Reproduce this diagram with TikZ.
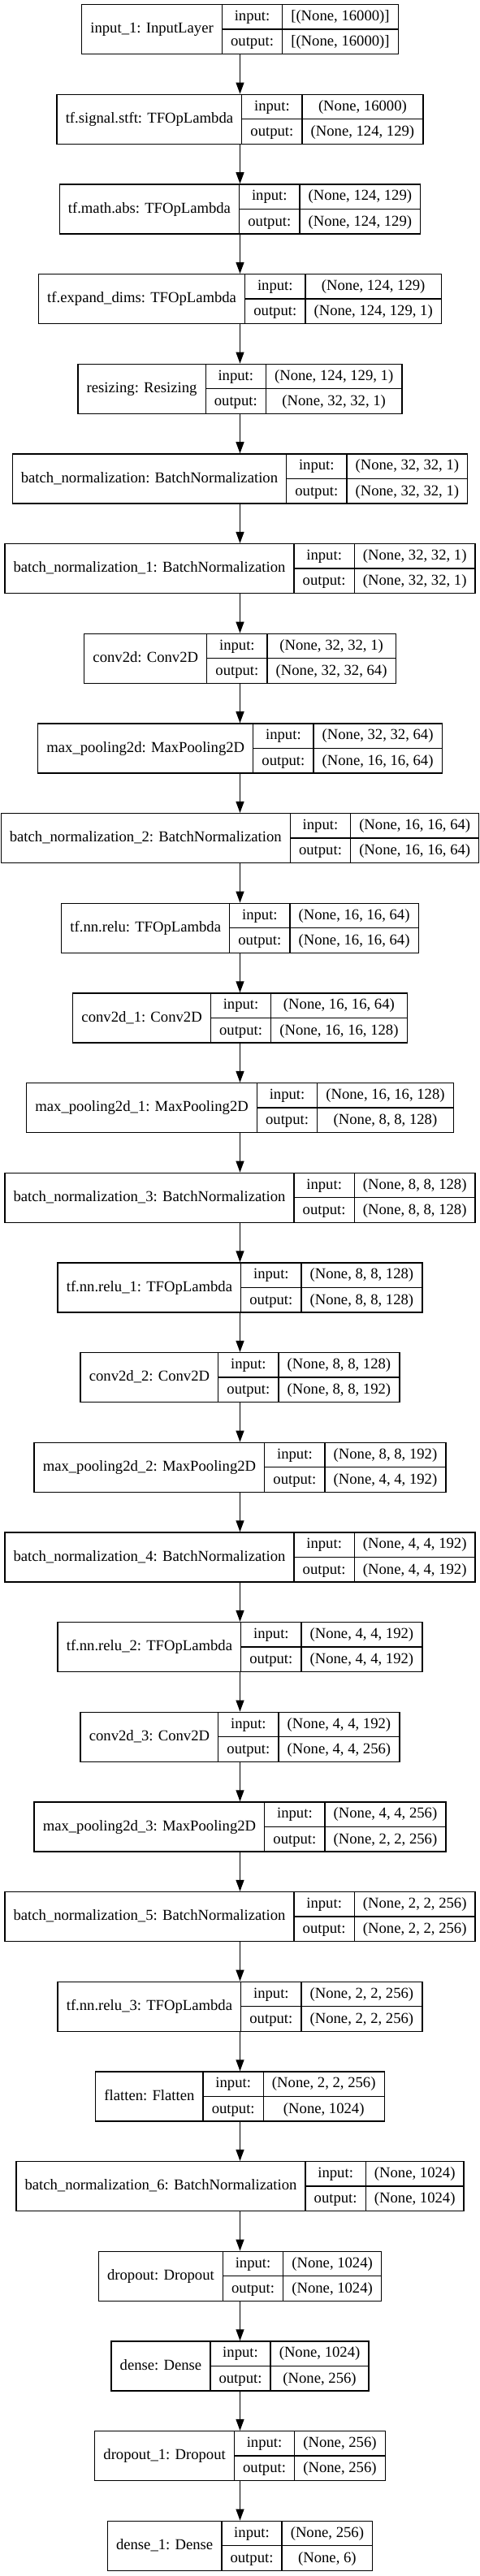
\documentclass[tikz,border=0pt]{standalone}
\usepackage{fontspec}
\setmainfont{Liberation Serif}
\usetikzlibrary{arrows.meta,positioning}

\setlength{\arrayrulewidth}{1pt}
\setlength{\tabcolsep}{0pt}
\newcommand{\fld}[1]{\kern8pt#1\kern8pt}
\newcommand{\fldrow}[1]{\rule[-7.4pt]{0pt}{22.4pt}\fld{#1}}
\newcommand{\lyr}[3]{%
\begin{tabular}{@{}c|c|c@{}}
\fld{#1} &
\begin{tabular}{@{}c@{}}\fldrow{input:}\\\hline\fldrow{output:}\end{tabular} &
\begin{tabular}{@{}c@{}}\fldrow{#2}\\\hline\fldrow{#3}\end{tabular}
\end{tabular}}

\begin{document}
\begin{tikzpicture}[
node distance=36.2pt,
layer/.style={draw,line width=1pt,inner sep=0pt,font=\fontsize{14}{17}\selectfont},
arr/.style={-{Triangle[length=10.5pt,width=7.5pt]},line width=1pt}
]
\path[use as bounding box,fill=white] (-221.625pt,3.68pt) rectangle (221.625pt,-2375.32pt);

\node[layer,anchor=north] (input) at (0,0) {\lyr{input\_1: InputLayer}{[(None, 16000)]}{[(None, 16000)]}};
\node[layer,below=of input]  (stft)   {\lyr{tf.signal.stft: TFOpLambda}{(None, 16000)}{(None, 124, 129)}};
\node[layer,below=of stft]   (abs)    {\lyr{tf.math.abs: TFOpLambda}{(None, 124, 129)}{(None, 124, 129)}};
\node[layer,below=of abs]    (expand) {\lyr{tf.expand\_dims: TFOpLambda}{(None, 124, 129)}{(None, 124, 129, 1)}};
\node[layer,below=of expand] (resize) {\lyr{resizing: Resizing}{(None, 124, 129, 1)}{(None, 32, 32, 1)}};
\node[layer,below=of resize] (bn)     {\lyr{batch\_normalization: BatchNormalization}{(None, 32, 32, 1)}{(None, 32, 32, 1)}};
\node[layer,below=of bn]     (bn1)    {\lyr{batch\_normalization\_1: BatchNormalization}{(None, 32, 32, 1)}{(None, 32, 32, 1)}};
\node[layer,below=of bn1]    (conv)   {\lyr{conv2d: Conv2D}{(None, 32, 32, 1)}{(None, 32, 32, 64)}};
\node[layer,below=of conv]   (pool)   {\lyr{max\_pooling2d: MaxPooling2D}{(None, 32, 32, 64)}{(None, 16, 16, 64)}};
\node[layer,below=of pool]   (bn2)    {\lyr{batch\_normalization\_2: BatchNormalization}{(None, 16, 16, 64)}{(None, 16, 16, 64)}};
\node[layer,below=of bn2]    (relu)   {\lyr{tf.nn.relu: TFOpLambda}{(None, 16, 16, 64)}{(None, 16, 16, 64)}};
\node[layer,below=of relu]   (conv1)  {\lyr{conv2d\_1: Conv2D}{(None, 16, 16, 64)}{(None, 16, 16, 128)}};
\node[layer,below=of conv1]  (pool1)  {\lyr{max\_pooling2d\_1: MaxPooling2D}{(None, 16, 16, 128)}{(None, 8, 8, 128)}};
\node[layer,below=of pool1]  (bn3)    {\lyr{batch\_normalization\_3: BatchNormalization}{(None, 8, 8, 128)}{(None, 8, 8, 128)}};
\node[layer,below=of bn3]    (relu1)  {\lyr{tf.nn.relu\_1: TFOpLambda}{(None, 8, 8, 128)}{(None, 8, 8, 128)}};
\node[layer,below=of relu1]  (conv2)  {\lyr{conv2d\_2: Conv2D}{(None, 8, 8, 128)}{(None, 8, 8, 192)}};
\node[layer,below=of conv2]  (pool2)  {\lyr{max\_pooling2d\_2: MaxPooling2D}{(None, 8, 8, 192)}{(None, 4, 4, 192)}};
\node[layer,below=of pool2]  (bn4)    {\lyr{batch\_normalization\_4: BatchNormalization}{(None, 4, 4, 192)}{(None, 4, 4, 192)}};
\node[layer,below=of bn4]    (relu2)  {\lyr{tf.nn.relu\_2: TFOpLambda}{(None, 4, 4, 192)}{(None, 4, 4, 192)}};
\node[layer,below=of relu2]  (conv3)  {\lyr{conv2d\_3: Conv2D}{(None, 4, 4, 192)}{(None, 4, 4, 256)}};
\node[layer,below=of conv3]  (pool3)  {\lyr{max\_pooling2d\_3: MaxPooling2D}{(None, 4, 4, 256)}{(None, 2, 2, 256)}};
\node[layer,below=of pool3]  (bn5)    {\lyr{batch\_normalization\_5: BatchNormalization}{(None, 2, 2, 256)}{(None, 2, 2, 256)}};
\node[layer,below=of bn5]    (relu3)  {\lyr{tf.nn.relu\_3: TFOpLambda}{(None, 2, 2, 256)}{(None, 2, 2, 256)}};
\node[layer,below=of relu3]  (flat)   {\lyr{flatten: Flatten}{(None, 2, 2, 256)}{(None, 1024)}};
\node[layer,below=of flat]   (bn6)    {\lyr{batch\_normalization\_6: BatchNormalization}{(None, 1024)}{(None, 1024)}};
\node[layer,below=of bn6]    (drop)   {\lyr{dropout: Dropout}{(None, 1024)}{(None, 1024)}};
\node[layer,below=of drop]   (dense)  {\lyr{dense: Dense}{(None, 1024)}{(None, 256)}};
\node[layer,below=of dense]  (drop1)  {\lyr{dropout\_1: Dropout}{(None, 256)}{(None, 256)}};
\node[layer,below=of drop1]  (dense1) {\lyr{dense\_1: Dense}{(None, 256)}{(None, 6)}};

\draw[arr] (input) -- (stft);
\draw[arr] (stft) -- (abs);
\draw[arr] (abs) -- (expand);
\draw[arr] (expand) -- (resize);
\draw[arr] (resize) -- (bn);
\draw[arr] (bn) -- (bn1);
\draw[arr] (bn1) -- (conv);
\draw[arr] (conv) -- (pool);
\draw[arr] (pool) -- (bn2);
\draw[arr] (bn2) -- (relu);
\draw[arr] (relu) -- (conv1);
\draw[arr] (conv1) -- (pool1);
\draw[arr] (pool1) -- (bn3);
\draw[arr] (bn3) -- (relu1);
\draw[arr] (relu1) -- (conv2);
\draw[arr] (conv2) -- (pool2);
\draw[arr] (pool2) -- (bn4);
\draw[arr] (bn4) -- (relu2);
\draw[arr] (relu2) -- (conv3);
\draw[arr] (conv3) -- (pool3);
\draw[arr] (pool3) -- (bn5);
\draw[arr] (bn5) -- (relu3);
\draw[arr] (relu3) -- (flat);
\draw[arr] (flat) -- (bn6);
\draw[arr] (bn6) -- (drop);
\draw[arr] (drop) -- (dense);
\draw[arr] (dense) -- (drop1);
\draw[arr] (drop1) -- (dense1);
\end{tikzpicture}
\end{document}
